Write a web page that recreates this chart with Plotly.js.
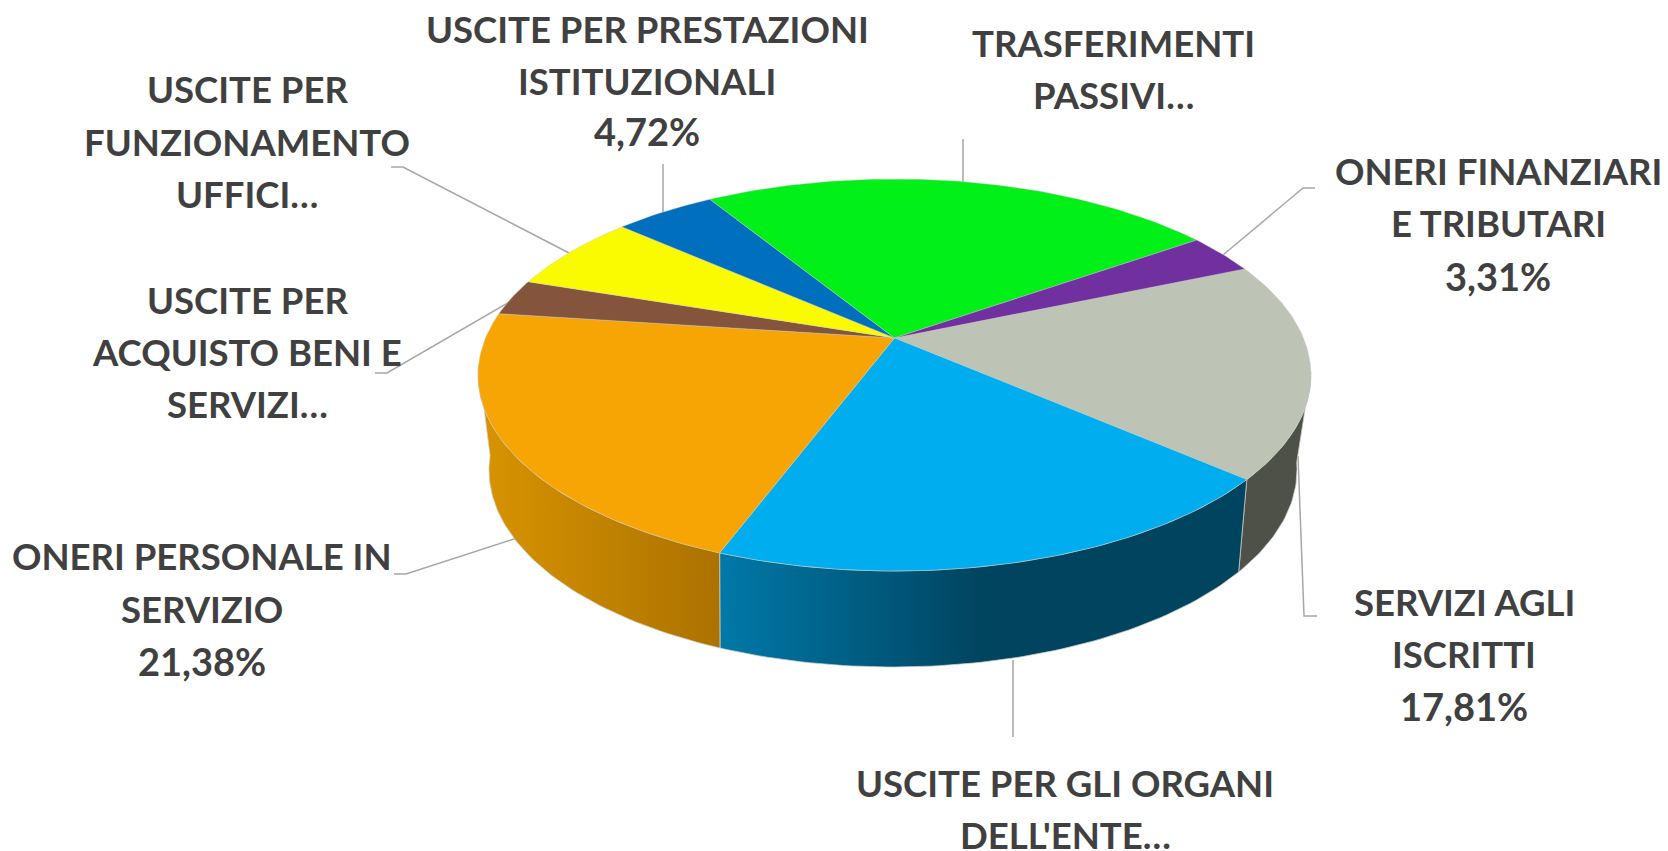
<!DOCTYPE html>
<html><head><meta charset="utf-8">
<script src="https://cdn.plot.ly/plotly-3.0.1.min.js"></script>
<style>html,body{margin:0;padding:0;background:#fff}</style></head>
<body><div id="chart" style="width:1668px;height:851px"></div>
<script>
// Data, clockwise from the first slice
const categories = ["SERVIZI AGLI ISCRITTI","USCITE PER GLI ORGANI DELL'ENTE","ONERI PERSONALE IN SERVIZIO","USCITE PER ACQUISTO BENI E SERVIZI","USCITE PER FUNZIONAMENTO UFFICI","USCITE PER PRESTAZIONI ISTITUZIONALI","TRASFERIMENTI PASSIVI","ONERI FINANZIARI E TRIBUTARI"];
const values = [17.81,19.33,21.38,3.0,6.4,4.72,24.05,3.31];
const topColors = ["#BDC3B5","#00AEEF","#F7A504","#85543D","#FAFA00","#006FBE","#00F018","#7030A0"];
const wallStyles = [
  ["#4D5147","#4D5147"],
  ["#0079A9","#00445F","#00445F"],
  ["#D89400","#AC7200"],
  null,null,null,null,null];
const labelLines = [
  ["SERVIZI AGLI","ISCRITTI","17,81%"],
  ["USCITE PER GLI ORGANI","DELL'ENTE…"],
  ["ONERI PERSONALE IN","SERVIZIO","21,38%"],
  ["USCITE PER","ACQUISTO BENI E","SERVIZI…"],
  ["USCITE PER","FUNZIONAMENTO","UFFICI…"],
  ["USCITE PER PRESTAZIONI","ISTITUZIONALI","4,72%"],
  ["TRASFERIMENTI","PASSIVI…"],
  ["ONERI FINANZIARI","E TRIBUTARI","3,31%"]];

// Layout of labels and leader lines (pixels on the hidden axes)
const labelCenterX = [1464,1065,202,247,247,647,1113,1498];
const labelLineY = [[602,654,706],[783,835],[556,609,661],[300,352,404],[89,142,194],[29,81,131],[43,95],[171,223,276]];
const leaders = [
  [[1298,456],[1304,616],[1317,616]],
  [[1013,660],[1013,737]],
  [[517,538],[406,574],[394,574]],
  [[513,300],[387,373],[375,373]],
  [[569,253],[403,167],[391,167]],
  [[663,213],[663,164]],
  [[963,182],[963,139]],
  [[1223,255],[1303,188],[1315,188]]];

// Perspective projection of the pie disc
const startAngle = 66.9;
const topDisc = {cx:894.5, cy:375, rx:416.5, ry:196, k:-0.189};
const baseDisc = {cx:893, cy:470, rx:404, ry:197, k:-0.21};
function project(d, deg){
  const a = deg*Math.PI/180, u = Math.sin(a), v = -Math.cos(a), w = 1+d.k*v;
  return [d.cx + d.rx*Math.sqrt(1-d.k*d.k)*u/w, d.cy + d.ry*(v+d.k)/w];
}
function arc(d, a0, a1){
  const n = Math.max(2, Math.ceil(Math.abs(a1-a0))), p = [];
  for(let i=0;i<=n;i++) p.push(project(d, a0+(a1-a0)*i/n));
  return p;
}
const total = values.reduce((a,b)=>a+b,0);
let acc = startAngle;
const bounds = values.map(v=>{const s=acc; acc+=v/total*360; return [s,acc];});

const traces = [];
const visibleWall = [100,262];
bounds.forEach((b,i)=>{
  const style = wallStyles[i]; if(!style) return;
  const a0 = Math.max(b[0],visibleWall[0]), a1 = Math.min(b[1],visibleWall[1]);
  if(a1<=a0) return;
  const pts = arc(topDisc,a0,a1).concat(arc(baseDisc,a1,a0));
  pts.push(pts[0]);
  traces.push({type:"scatter",mode:"lines",x:pts.map(p=>p[0]),y:pts.map(p=>p[1]),fill:"toself",
    line:{color:"rgba(205,205,200,0.75)",width:1},
    fillgradient:{type:"horizontal",colorscale:style.map((c,j)=>[j/(style.length-1),c])},
    hoverinfo:"skip",showlegend:false});
});
bounds.forEach((b,i)=>{
  const apex = [topDisc.cx, topDisc.cy + topDisc.ry*topDisc.k];
  const poly = [apex].concat(arc(topDisc,b[0],b[1])); poly.push(apex);
  traces.push({type:"scatter",mode:"lines",x:poly.map(p=>p[0]),y:poly.map(p=>p[1]),fill:"toself",
    fillcolor:topColors[i],line:{color:"rgba(205,205,200,0.4)",width:1},
    name:categories[i],text:values[i].toFixed(2).replace(".",",")+"%",hoverinfo:"name+text",showlegend:false});
});

const annotations = [];
labelLines.forEach((lines,i)=>lines.forEach((t,j)=>annotations.push({
  text:t,x:labelCenterX[i],y:labelLineY[i][j],xref:"x",yref:"y",showarrow:false,
  xanchor:"center",yanchor:"middle",
  font:{family:"Lato, Carlito, sans-serif",size:t.endsWith("%")?38:36.5,color:"#404040",weight:700}})));
const shapes = leaders.map(l=>({type:"path",xref:"x",yref:"y",
  path:l.map((p,i)=>(i?"L":"M")+p[0]+","+p[1]).join(" "),
  line:{color:"#A6A6A6",width:1.5},layer:"below"}));

Plotly.newPlot("chart",traces,{
  width:1668,height:851,margin:{l:0,r:0,t:0,b:0},paper_bgcolor:"#fff",plot_bgcolor:"#fff",
  xaxis:{range:[0,1668],visible:false,fixedrange:true},
  yaxis:{range:[851,0],visible:false,fixedrange:true},
  annotations,shapes,showlegend:false
},{displayModeBar:false});
</script></body></html>
